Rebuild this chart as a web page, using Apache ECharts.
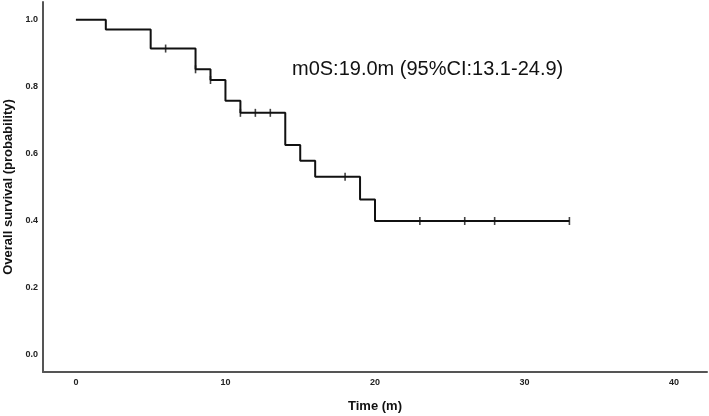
<!DOCTYPE html>
<html>
<head>
<meta charset="utf-8">
<script src="https://cdn.jsdelivr.net/npm/echarts@6/dist/echarts.min.js"></script>
<style>html,body{margin:0;padding:0;background:#fff;}#c{width:709px;height:416px;}</style>
</head>
<body>
<div id="c"></div>
<script>
var times = [0, 2, 5, 8, 9, 10, 11, 14, 15, 16, 19, 20, 33];
var survival = [1.0, 0.971, 0.914, 0.852, 0.82, 0.758, 0.722, 0.626, 0.579, 0.531, 0.463, 0.399, 0.399];
var censorTimes = [6, 8, 9, 11, 12, 13, 18, 23, 26, 28, 33];
var censorSurvival = [0.914, 0.852, 0.82, 0.722, 0.722, 0.722, 0.531, 0.399, 0.399, 0.399, 0.399];
var xTicks = [0, 10, 20, 30, 40];
var yTicks = [0, 0.2, 0.4, 0.6, 0.8, 1.0];
var annotation = 'm0S:19.0m (95%CI:13.1-24.9)';

var font = '"Liberation Sans", Arial, sans-serif';
var chart = echarts.init(document.getElementById('c'), null, {renderer: 'canvas'});
chart.setOption({
  animation: false,
  backgroundColor: '#fff',
  grid: {left: 43, right: 2, top: 2, bottom: 44, containLabel: false, outerBoundsMode: 'none'},
  xAxis: {
    type: 'value', min: -2.2, max: 42.2,
    name: 'Time (m)', nameLocation: 'middle', nameGap: 28,
    nameTextStyle: {fontFamily: font, fontWeight: 'bold', fontSize: 13, color: '#111'},
    axisLine: {show: true, onZero: false, lineStyle: {color: '#555', width: 2}},
    axisTick: {show: false},
    splitLine: {show: false},
    axisLabel: {customValues: xTicks, fontFamily: font, fontWeight: 'bold', fontSize: 9, color: '#222', margin: 6,
      formatter: function (v) { return String(v); }}
  },
  yAxis: {
    type: 'value', min: -0.052, max: 1.053,
    name: 'Overall survival (probability)', nameLocation: 'middle', nameGap: 27,
    nameTextStyle: {fontFamily: font, fontWeight: 'bold', fontSize: 13, color: '#111'},
    axisLine: {show: true, onZero: false, lineStyle: {color: '#555', width: 2}},
    axisTick: {show: false},
    splitLine: {show: false},
    axisLabel: {customValues: yTicks, fontFamily: font, fontWeight: 'bold', fontSize: 9, color: '#222', margin: 5,
      formatter: function (v) { return v.toFixed(1); }}
  },
  graphic: [{
    type: 'text', left: 292, top: 59,
    style: {text: annotation, fontFamily: font, fontSize: 20, fill: '#111'}
  }],
  series: [{
    type: 'line', step: 'end', symbol: 'none',
    data: times.map(function (t, i) { return [t, survival[i]]; }),
    lineStyle: {color: '#111', width: 2}
  }, {
    type: 'scatter', symbol: 'rect', symbolSize: [1.6, 8],
    data: censorTimes.map(function (t, i) { return [t, censorSurvival[i]]; }),
    itemStyle: {color: '#111'}
  }]
});
</script>
</body>
</html>
